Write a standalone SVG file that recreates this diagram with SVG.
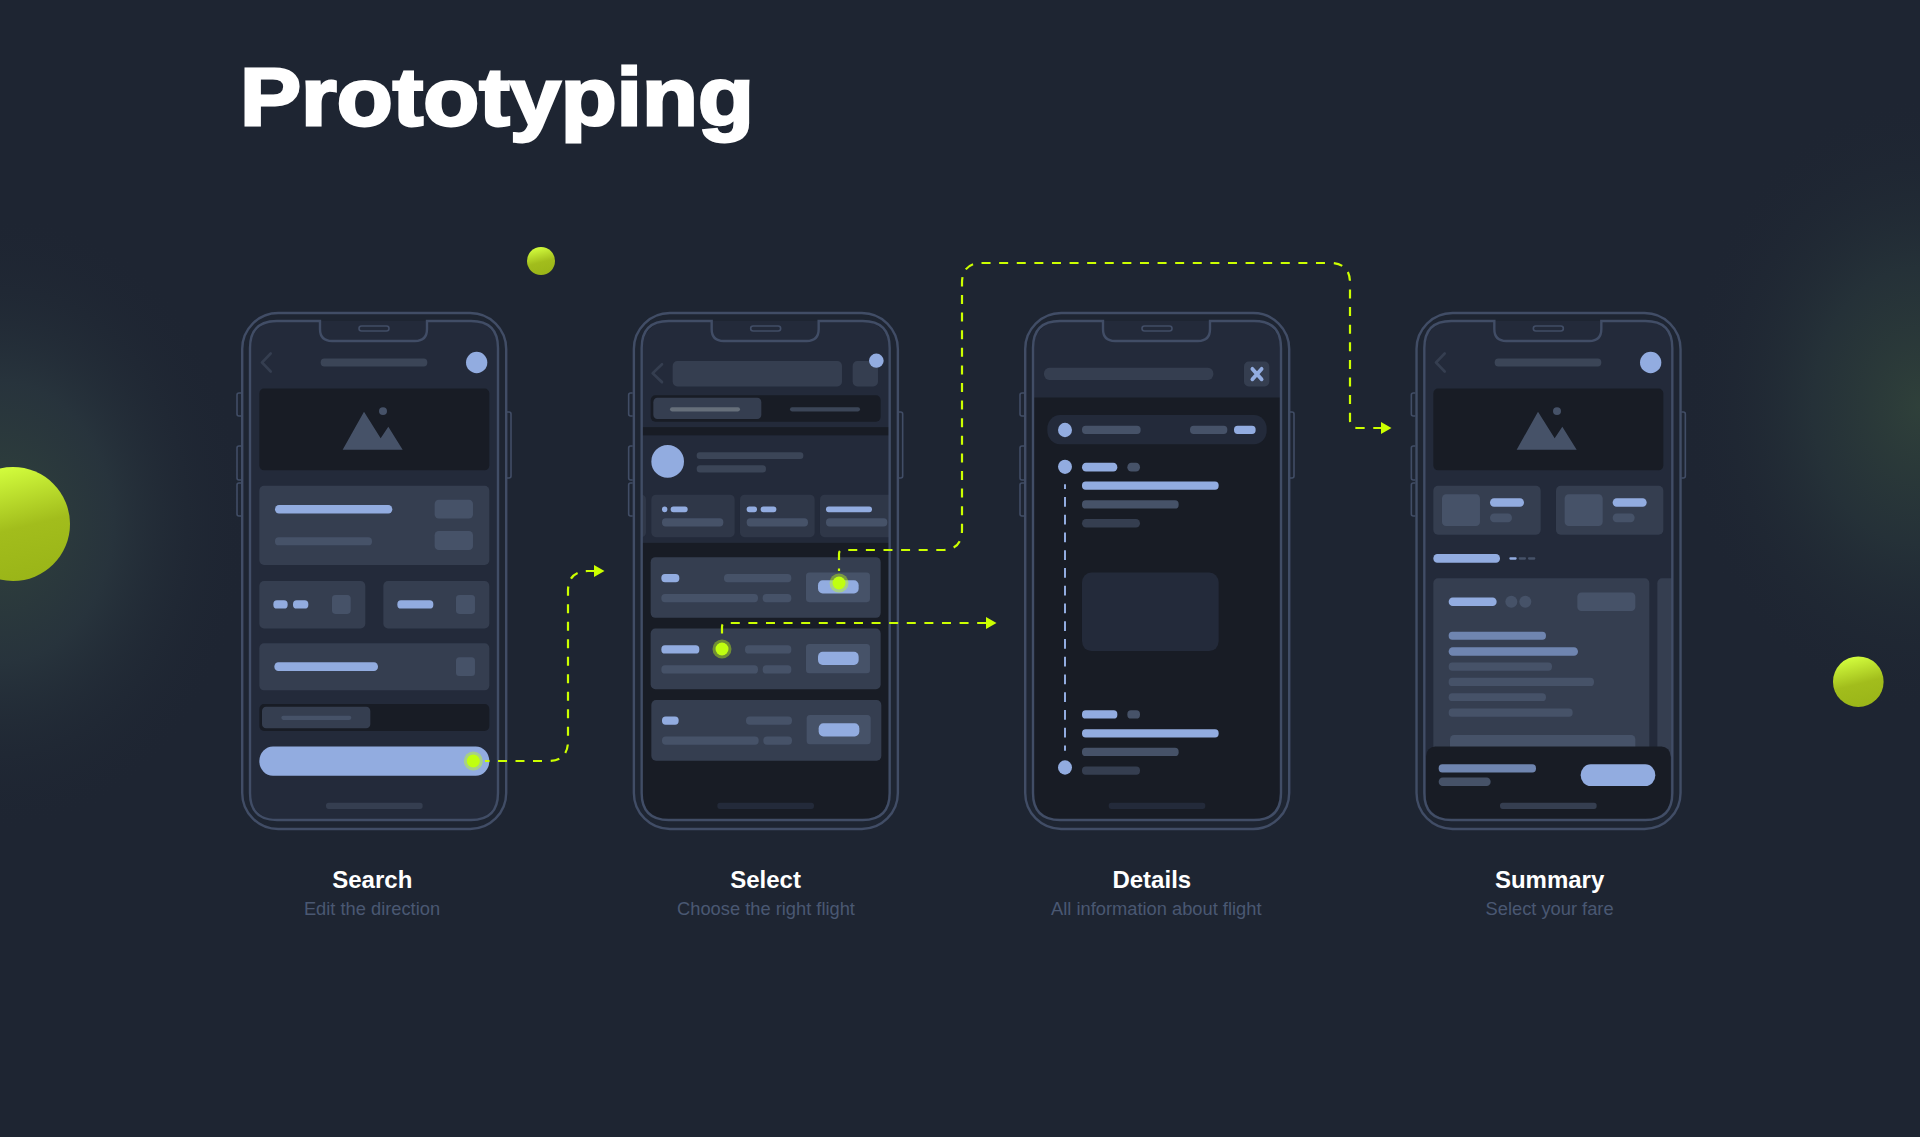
<svg xmlns="http://www.w3.org/2000/svg" width="1920" height="1137" viewBox="0 0 1920 1137">
<style>
.b{fill:#92ace0}.g{fill:#465268}.p{fill:#353e50}.d{fill:#181c25}.s{fill:#232a3a}.m{fill:#6f85b0}.f{fill:#2f3748}
.t3{fill:#3b4557}
.frame{fill:none;stroke:#414d66;stroke-width:2.4}
.thin{fill:none;stroke:#414d66;stroke-width:1.6}
.chev{fill:none;stroke:#353e50;stroke-width:8;stroke-linecap:round;stroke-linejoin:round}
.conn{fill:none;stroke:#ccff00;stroke-width:2.2;stroke-dasharray:9 8.6}
.halo{fill:#c4ff0e;fill-opacity:.42}.dot{fill:#c0ff10}
text{font-family:"Liberation Sans",Arial,sans-serif}
.title{font-size:82px;font-weight:700;fill:#fff;stroke:#fff;stroke-width:2.8px}
.h{font-size:24px;font-weight:700;fill:#fff;text-anchor:middle}
.u{font-size:18.3px;fill:#4a5872;text-anchor:middle}
</style>
<defs>
<radialGradient id="gl" gradientUnits="userSpaceOnUse" cx="0" cy="0" r="1" gradientTransform="translate(0 522) scale(250 310)"><stop offset="0" stop-color="#30423c"/><stop offset=".45" stop-color="#29363e" stop-opacity=".85"/><stop offset="1" stop-color="#1e2532" stop-opacity="0"/></radialGradient>
<radialGradient id="gr" gradientUnits="userSpaceOnUse" cx="0" cy="0" r="1" gradientTransform="translate(1920 406) scale(240 310)"><stop offset="0" stop-color="#2f403a"/><stop offset=".45" stop-color="#263339" stop-opacity=".85"/><stop offset="1" stop-color="#1e2532" stop-opacity="0"/></radialGradient>
<linearGradient id="sph" x1=".35" y1="0" x2=".6" y2="1"><stop offset="0" stop-color="#d4ff3e"/><stop offset=".55" stop-color="#a2bd1c"/><stop offset="1" stop-color="#9ab518"/></linearGradient>
<clipPath id="screen"><rect x="250" y="321" width="248" height="499" rx="27"/></clipPath>
<marker id="arrow" markerUnits="userSpaceOnUse" markerWidth="11" markerHeight="12" refX="0" refY="6" orient="auto"><path d="M0 0L10.5 6L0 12Z" fill="#ccff00"/></marker>
<g id="frame">
<rect class="frame" x="242.2" y="313" width="264" height="516" rx="36"/>
<path class="frame" d="M277 321H320V329Q320 341 332 341H415Q427 341 427 329V321H471Q498 321 498 348V793Q498 820 471 820H277Q250 820 250 793V348Q250 321 277 321Z"/>
<rect class="thin" x="359" y="326" width="30" height="5" rx="2.5"/>
<path class="thin" d="M241 393H239Q237 393 237 395V414Q237 416 239 416H241M241 446H239Q237 446 237 448V478Q237 480 239 480H241M241 483H239Q237 483 237 485V514Q237 516 239 516H241M507 412H509Q511 412 511 414V476Q511 478 509 478H507"/>
</g>
</defs>
<rect width="1920" height="1137" fill="#1e2532"/>
<rect width="420" height="1137" fill="url(#gl)"/>
<rect x="1500" width="420" height="1137" fill="url(#gr)"/>
<circle cx="13" cy="524" r="57" fill="url(#sph)"/>
<circle cx="541" cy="261" r="14" fill="url(#sph)"/>
<circle cx="1858.3" cy="681.7" r="25.3" fill="url(#sph)"/>
<text class="title" x="240" y="125" textLength="514" lengthAdjust="spacingAndGlyphs">Prototyping</text>

<g id="phone-search">
<g clip-path="url(#screen)"><g transform="translate(220 300) scale(.33333 .35714)">
<rect class="s" x="60" y="40" width="800" height="1440"/>
<path class="chev" d="M152 150L126 175L152 200"/>
<rect class="t3" x="302" y="164" width="320" height="22" rx="11"/>
<ellipse class="b" cx="770" cy="175" rx="32" ry="30"/>
<rect class="d" x="118" y="248" width="690" height="229" rx="14"/>
<path class="g" d="M368 419L432 313L482 387L505 355L548 419Z"/><ellipse class="g" cx="489" cy="311" rx="12" ry="11"/>
<rect class="p" x="118" y="520" width="690" height="222" rx="14"/>
<rect class="b" x="165" y="574" width="352" height="24" rx="12"/>
<rect class="g" x="165" y="664" width="291" height="23" rx="11"/>
<rect class="g" x="644" y="559" width="115" height="53" rx="12"/><rect class="g" x="644" y="647" width="115" height="53" rx="12"/>
<rect class="p" x="118" y="787" width="318" height="133" rx="14"/><rect class="p" x="490" y="787" width="318" height="133" rx="14"/>
<rect class="b" x="160" y="841" width="43" height="23" rx="11"/><rect class="b" x="219" y="841" width="46" height="23" rx="11"/>
<rect class="g" x="336" y="826" width="56" height="53" rx="10"/>
<rect class="b" x="532" y="841" width="108" height="23" rx="11"/><rect class="g" x="708" y="826" width="57" height="53" rx="10"/>
<rect class="p" x="118" y="961" width="690" height="132" rx="14"/>
<rect class="b" x="163" y="1014" width="311" height="25" rx="12"/><rect class="g" x="708" y="1000" width="57" height="53" rx="10"/>
<rect class="d" x="118" y="1131" width="690" height="76" rx="14"/>
<rect class="p" x="126" y="1139" width="325" height="60" rx="12"/><rect class="g" x="184" y="1164" width="210" height="12" rx="6"/>
<rect class="b" x="118" y="1250" width="690" height="82" rx="41"/>
<rect class="p" x="318" y="1408" width="290" height="17" rx="8"/>
</g></g>
<use href="#frame"/>
</g>

<g id="phone-select" transform="translate(391.67 0)">
<g clip-path="url(#screen)"><g transform="translate(228.33 300) scale(.33333 .35714)">
<rect class="d" x="30" y="40" width="800" height="1440"/>
<rect class="s" x="30" y="40" width="800" height="316"/><rect class="s" x="30" y="379" width="800" height="301"/>
<path class="chev" d="M126 180L98 205L126 230"/>
<rect class="p" x="158" y="171" width="508" height="71" rx="14"/><rect class="p" x="698" y="171" width="76" height="71" rx="14"/>
<ellipse class="b" cx="769" cy="170" rx="22" ry="20"/>
<rect class="d" x="92" y="267" width="690" height="74" rx="14"/>
<rect class="p" x="100" y="274" width="324" height="59" rx="12"/>
<rect fill="#666f7a" x="150" y="300" width="210" height="12" rx="6"/><rect class="t3" x="510" y="300" width="210" height="12" rx="6"/>
<ellipse class="b" cx="143" cy="452" rx="49" ry="46"/>
<rect class="t3" x="230" y="426" width="320" height="19" rx="9"/><rect class="t3" x="230" y="463" width="208" height="20" rx="10"/>
<rect class="f" x="30" y="545" width="48" height="119" rx="14"/><rect class="f" x="94" y="545" width="250" height="119" rx="14"/><rect class="f" x="360" y="545" width="224" height="119" rx="14"/><rect class="f" x="600" y="545" width="230" height="119" rx="14"/>
<ellipse class="b" cx="134" cy="586" rx="8" ry="8"/><rect class="b" x="152" y="578" width="51" height="16" rx="8"/><rect class="g" x="126" y="611" width="184" height="23" rx="11"/>
<rect class="b" x="380" y="578" width="31" height="16" rx="8"/><rect class="b" x="422" y="578" width="47" height="16" rx="8"/><rect class="g" x="380" y="611" width="184" height="23" rx="11"/>
<rect class="b" x="618" y="578" width="138" height="16" rx="8"/><rect class="g" x="618" y="611" width="184" height="23" rx="11"/>
<rect class="p" x="92" y="720" width="690" height="170" rx="14"/>
<rect class="b" x="124" y="767" width="54" height="23" rx="11"/><rect class="g" x="312" y="767" width="202" height="23" rx="11"/><rect class="g" x="124" y="823" width="290" height="23" rx="11"/><rect class="g" x="428" y="823" width="86" height="23" rx="11"/>
<rect class="g" x="558" y="763" width="192" height="83" rx="10"/><rect class="b" x="594" y="785" width="122" height="37" rx="14"/>
<rect class="p" x="92" y="920" width="690" height="170" rx="14"/>
<rect class="b" x="124" y="967" width="114" height="23" rx="11"/><rect class="g" x="375" y="967" width="139" height="23" rx="11"/><rect class="g" x="124" y="1023" width="290" height="23" rx="11"/><rect class="g" x="428" y="1023" width="86" height="23" rx="11"/>
<rect class="g" x="558" y="963" width="192" height="82" rx="10"/><rect class="b" x="594" y="985" width="122" height="37" rx="14"/>
<rect class="p" x="94" y="1120" width="690" height="170" rx="14"/>
<rect class="b" x="126" y="1166" width="50" height="23" rx="11"/><rect class="g" x="378" y="1166" width="138" height="23" rx="11"/><rect class="g" x="126" y="1222" width="290" height="23" rx="11"/><rect class="g" x="430" y="1222" width="86" height="23" rx="11"/>
<rect class="g" x="560" y="1162" width="192" height="82" rx="10"/><rect class="b" x="596" y="1185" width="122" height="37" rx="14"/>
<rect class="s" x="292" y="1408" width="290" height="17" rx="8"/>
</g></g>
<use href="#frame"/>
</g>

<g id="phone-details" transform="translate(783 0)">
<g clip-path="url(#screen)"><g transform="translate(227 300) scale(.33333 .35714)">
<rect class="d" x="30" y="40" width="800" height="1440"/>
<rect class="s" x="30" y="40" width="800" height="233"/>
<rect class="p" x="102" y="190" width="508" height="34" rx="16"/>
<rect class="p" x="702" y="172" width="76" height="70" rx="14"/>
<path d="M727 193L755 222M755 193L727 222" fill="none" stroke="#92ace0" stroke-width="11" stroke-linecap="round"/>
<rect class="s" x="112" y="322" width="658" height="82" rx="38"/>
<ellipse class="b" cx="165" cy="364" rx="21" ry="20"/>
<rect class="g" x="216" y="352" width="176" height="23" rx="11"/><rect class="g" x="540" y="352" width="112" height="23" rx="11"/><rect class="b" x="672" y="352" width="65" height="23" rx="11"/>
<ellipse class="b" cx="165" cy="467" rx="21" ry="20"/>
<rect class="b" x="216" y="456" width="106" height="24" rx="12"/><rect class="g" x="352" y="456" width="38" height="24" rx="12"/>
<rect class="b" x="216" y="508" width="410" height="23" rx="11"/><rect class="g" x="216" y="561" width="290" height="23" rx="11"/><rect class="p" x="216" y="613" width="174" height="24" rx="12"/>
<path d="M165 516V1262" fill="none" stroke="#92ace0" stroke-width="6" stroke-dasharray="27 22.7" stroke-dashoffset="14"/>
<rect class="s" x="216" y="763" width="410" height="220" rx="28"/>
<rect class="b" x="216" y="1149" width="106" height="23" rx="11"/><rect class="g" x="352" y="1149" width="38" height="23" rx="11"/>
<rect class="b" x="216" y="1202" width="410" height="23" rx="11"/><rect class="g" x="216" y="1254" width="290" height="23" rx="11"/>
<ellipse class="b" cx="165" cy="1309" rx="21" ry="20"/><rect class="p" x="216" y="1306" width="174" height="23" rx="11"/>
<rect class="s" x="296" y="1408" width="290" height="17" rx="8"/>
</g></g>
<use href="#frame"/>
</g>

<g id="phone-summary" transform="translate(1174.33 0)">
<g clip-path="url(#screen)"><g transform="translate(225.67 300) scale(.33333 .35714)">
<rect class="s" x="30" y="40" width="840" height="1440"/>
<path class="chev" d="M134 150L108 175L134 200"/>
<rect class="t3" x="284" y="164" width="320" height="22" rx="11"/>
<ellipse class="b" cx="752" cy="175" rx="32" ry="30"/>
<rect class="d" x="100" y="248" width="690" height="229" rx="14"/>
<path class="g" d="M350 419L414 313L464 387L487 355L530 419Z"/><ellipse class="g" cx="471" cy="311" rx="12" ry="11"/>
<rect class="p" x="100" y="520" width="322" height="137" rx="14"/><rect class="p" x="468" y="520" width="322" height="137" rx="14"/>
<rect class="g" x="126" y="544" width="114" height="89" rx="12"/><rect class="b" x="270" y="555" width="102" height="24" rx="12"/><rect class="g" x="270" y="598" width="66" height="24" rx="12"/>
<rect class="g" x="494" y="544" width="114" height="89" rx="12"/><rect class="b" x="638" y="555" width="102" height="24" rx="12"/><rect class="g" x="638" y="598" width="66" height="24" rx="12"/>
<rect class="b" x="100" y="711" width="200" height="25" rx="12"/>
<rect class="b" x="328" y="720" width="22" height="7" rx="3"/><rect class="g" x="356" y="720" width="22" height="7" rx="3"/><rect class="g" x="384" y="720" width="22" height="7" rx="3"/>
<rect class="p" x="100" y="779" width="648" height="500" rx="14"/><rect class="p" x="772" y="779" width="80" height="500" rx="14"/>
<rect class="b" x="146" y="833" width="144" height="24" rx="12"/>
<ellipse class="g" cx="334" cy="845" rx="18" ry="17"/><ellipse class="g" cx="376" cy="845" rx="18" ry="17"/>
<rect class="g" x="532" y="819" width="174" height="52" rx="12"/>
<rect class="m" x="146" y="929" width="292" height="22" rx="11"/><rect class="m" x="146" y="972" width="388" height="24" rx="12"/>
<rect class="g" x="146" y="1015" width="310" height="23" rx="11"/><rect class="g" x="146" y="1058" width="436" height="23" rx="11"/><rect class="g" x="146" y="1101" width="292" height="22" rx="11"/><rect class="g" x="146" y="1144" width="372" height="23" rx="11"/>
<rect class="g" x="150" y="1218" width="556" height="60" rx="12"/>
<rect class="d" x="78" y="1250" width="734" height="240" rx="28"/>
<rect class="m" x="116" y="1300" width="292" height="23" rx="11"/><rect class="g" x="116" y="1337" width="156" height="24" rx="12"/>
<rect class="b" x="542" y="1300" width="224" height="61" rx="30"/>
<rect class="p" x="300" y="1408" width="290" height="17" rx="8"/>
</g></g>
<use href="#frame"/>
</g>

<g id="connectors">
<path class="conn" style="stroke-dasharray:9 8.5" stroke-dashoffset="4.5" d="M485 761H548Q568 761 568 741V591Q568 571 588 571H594" marker-end="url(#arrow)"/>
<path class="conn" stroke-dashoffset="11.1" d="M722 640V627Q722 623 726 623H986" marker-end="url(#arrow)"/>
<path class="conn" stroke-dashoffset="6.6" d="M839 571V554Q839 550 843 550H942Q962 550 962 530V283Q962 263 982 263H1330Q1350 263 1350 283V420Q1350 428 1358 428H1381" marker-end="url(#arrow)"/>
<circle class="halo" cx="473.3" cy="761" r="9.5"/><circle class="dot" cx="473.3" cy="761" r="6.5"/>
<circle class="halo" cx="839" cy="583" r="9.5"/><circle class="dot" cx="839" cy="583" r="6.5"/>
<circle class="halo" cx="722" cy="649" r="9.5"/><circle class="dot" cx="722" cy="649" r="6.5"/>
</g>

<g id="labels">
<text class="h" x="372.3" y="888">Search</text><text class="u" x="372" y="915">Edit the direction</text>
<text class="h" x="765.6" y="888">Select</text><text class="u" x="766" y="915">Choose the right flight</text>
<text class="h" x="1151.8" y="888">Details</text><text class="u" x="1156.3" y="915">All information about flight</text>
<text class="h" x="1549.6" y="888">Summary</text><text class="u" x="1549.6" y="915">Select your fare</text>
</g>
</svg>
